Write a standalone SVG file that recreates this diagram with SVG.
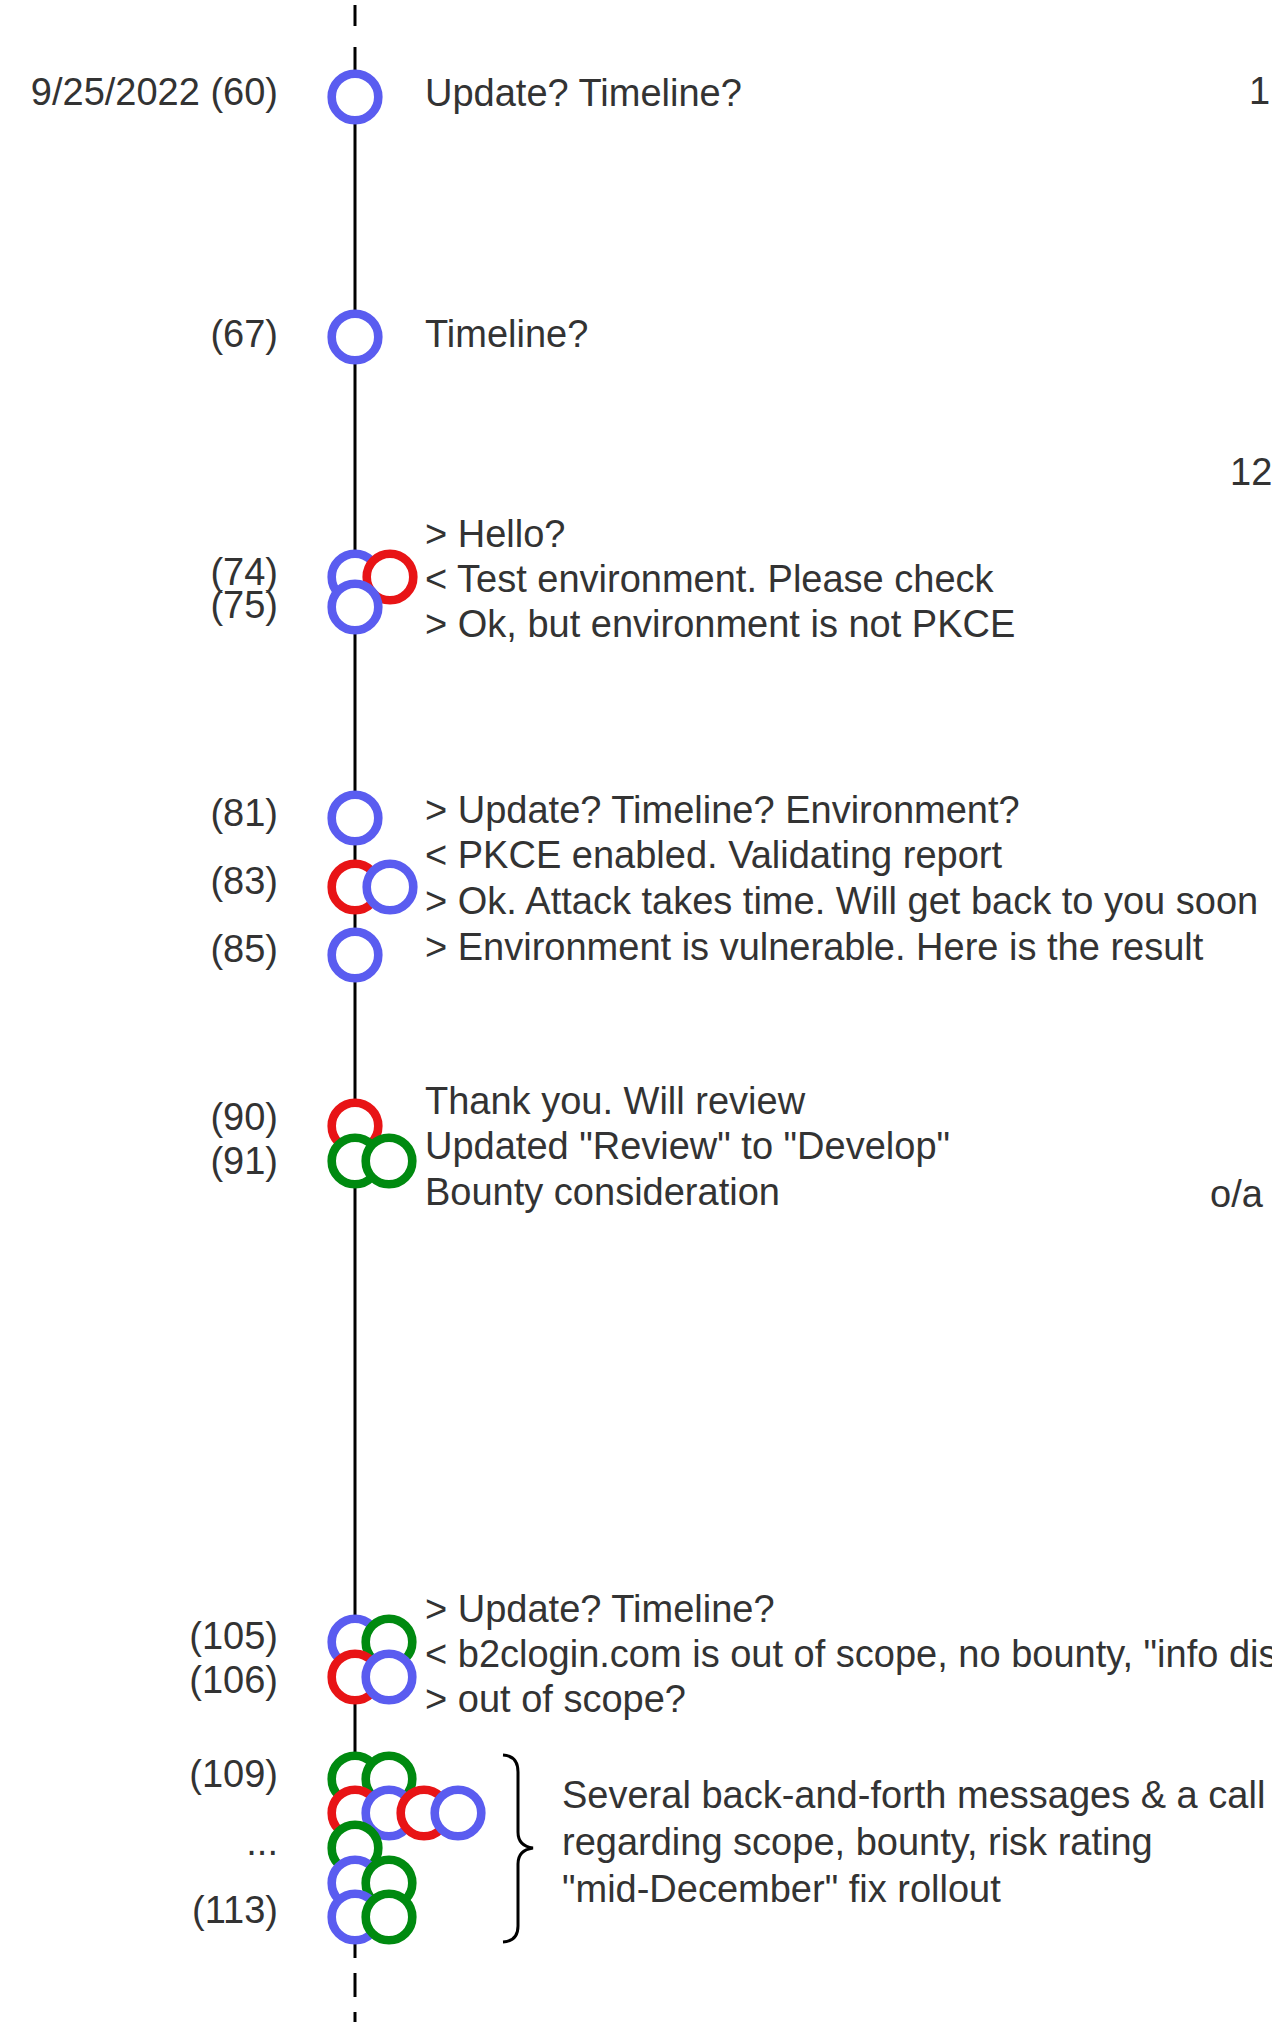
<svg xmlns="http://www.w3.org/2000/svg" width="1272" height="2022" viewBox="0 0 1272 2022">
  <style>
    text { font-family: "Liberation Sans", Arial, sans-serif; font-size: 38px; fill: #333333; }
    .lbl { text-anchor: end; }
    .ring { fill: #ffffff; stroke-width: 8.6; }
    .b { stroke: #5a5cf0; }
    .r { stroke: #e81416; }
    .g { stroke: #008a10; }
    .axis { stroke: #000000; stroke-width: 3; fill: none; }
  </style>
  <defs>
    <circle id="dot" r="23.3"/>
  </defs>
  <rect width="1272" height="2022" fill="#ffffff"/>

  <!-- timeline axis -->
  <g id="connectors">
    <line class="axis" x1="355" y1="5" x2="355" y2="26"/>
    <line class="axis" x1="355" y1="47" x2="355" y2="1958"/>
    <line class="axis" x1="355" y1="1973" x2="355" y2="1997"/>
    <line class="axis" x1="355" y1="2012" x2="355" y2="2022"/>
    <path class="axis" d="M503,1755 Q518,1756 518,1772 L518,1832 Q518,1846 533,1848 Q518,1850 518,1864 L518,1926 Q518,1941 503,1942"/>
  </g>

  <g id="event-60">
    <text class="lbl" x="278" y="105">9/25/2022 (60)</text>
    <use href="#dot" class="ring b" x="355" y="97"/>
    <text x="425" y="106">Update? Timeline?</text>
    <text x="1249" y="104">1</text>
  </g>

  <g id="event-67">
    <text class="lbl" x="278" y="347">(67)</text>
    <use href="#dot" class="ring b" x="355" y="337"/>
    <text x="425" y="347">Timeline?</text>
    <text x="1230" y="485">12</text>
  </g>

  <g id="event-74">
    <text class="lbl" x="278" y="585">(74)</text>
    <text class="lbl" x="278" y="618">(75)</text>
    <use href="#dot" class="ring b" x="355" y="577"/>
    <use href="#dot" class="ring r" x="390" y="577"/>
    <use href="#dot" class="ring b" x="355" y="607"/>
    <text x="425" y="547">&gt; Hello?</text>
    <text x="425" y="592">&lt; Test environment. Please check</text>
    <text x="425" y="637">&gt; Ok, but environment is not PKCE</text>
  </g>

  <g id="event-81">
    <text class="lbl" x="278" y="826">(81)</text>
    <text class="lbl" x="278" y="894">(83)</text>
    <text class="lbl" x="278" y="962">(85)</text>
    <use href="#dot" class="ring b" x="355" y="818"/>
    <use href="#dot" class="ring r" x="355" y="887"/>
    <use href="#dot" class="ring b" x="390" y="887"/>
    <use href="#dot" class="ring b" x="355" y="955"/>
    <text x="425" y="823">&gt; Update? Timeline? Environment?</text>
    <text x="425" y="868">&lt; PKCE enabled. Validating report</text>
    <text x="425" y="914">&gt; Ok. Attack takes time. Will get back to you soon</text>
    <text x="425" y="960">&gt; Environment is vulnerable. Here is the result</text>
  </g>

  <g id="event-90">
    <text class="lbl" x="278" y="1130">(90)</text>
    <text class="lbl" x="278" y="1174">(91)</text>
    <use href="#dot" class="ring r" x="355" y="1126"/>
    <use href="#dot" class="ring g" x="355" y="1161"/>
    <use href="#dot" class="ring g" x="389" y="1161"/>
    <text x="425" y="1114">Thank you. Will review</text>
    <text x="425" y="1159">Updated "Review" to "Develop"</text>
    <text x="425" y="1205">Bounty consideration</text>
    <text x="1210" y="1207">o/a</text>
  </g>

  <g id="event-105">
    <text class="lbl" x="278" y="1649">(105)</text>
    <text class="lbl" x="278" y="1693">(106)</text>
    <use href="#dot" class="ring b" x="355" y="1642"/>
    <use href="#dot" class="ring g" x="389" y="1642"/>
    <use href="#dot" class="ring r" x="355" y="1677"/>
    <use href="#dot" class="ring b" x="389" y="1677"/>
    <text x="425" y="1622">&gt; Update? Timeline?</text>
    <text x="425" y="1667">&lt; b2clogin.com is out of scope, no bounty, "info dis</text>
    <text x="425" y="1712">&gt; out of scope?</text>
  </g>

  <g id="event-109">
    <text class="lbl" x="278" y="1787">(109)</text>
    <text class="lbl" x="278" y="1855">...</text>
    <text class="lbl" x="278" y="1923">(113)</text>
    <use href="#dot" class="ring g" x="355" y="1779"/>
    <use href="#dot" class="ring g" x="389" y="1779"/>
    <use href="#dot" class="ring r" x="355" y="1813"/>
    <use href="#dot" class="ring b" x="389" y="1813"/>
    <use href="#dot" class="ring r" x="424" y="1813"/>
    <use href="#dot" class="ring b" x="458" y="1813"/>
    <use href="#dot" class="ring g" x="355" y="1848"/>
    <use href="#dot" class="ring b" x="355" y="1883"/>
    <use href="#dot" class="ring g" x="389" y="1883"/>
    <use href="#dot" class="ring b" x="355" y="1917"/>
    <use href="#dot" class="ring g" x="389" y="1917"/>
    <text x="562" y="1808">Several back-and-forth messages &amp; a call</text>
    <text x="562" y="1855">regarding scope, bounty, risk rating</text>
    <text x="562" y="1902">"mid-December" fix rollout</text>
  </g>
</svg>
